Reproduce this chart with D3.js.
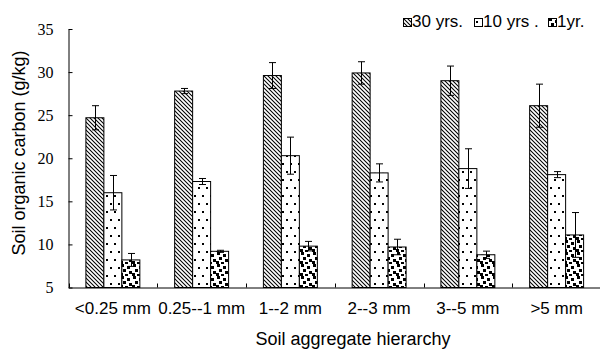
<!DOCTYPE html>
<html>
<head>
<meta charset="utf-8">
<script src="https://cdn.jsdelivr.net/npm/d3@7"></script>
<style>
  html, body { margin: 0; padding: 0; background: #fff; }
  svg { display: block; }
</style>
</head>
<body>
<svg id="chart" width="600" height="351"></svg>
<script>
// Soil organic carbon by aggregate size class, for three reclamation ages
const categories = ["<0.25 mm", "0.25--1 mm", "1--2 mm", "2--3 mm", "3--5 mm", ">5 mm"];
const seriesNames = ["30 yrs.", "10 yrs .", "1yr."];
const values30 = [24.7, 27.8, 29.6, 29.9, 29.0, 26.1];
const errors30 = [1.4, 0.3, 1.5, 1.3, 1.7, 2.5];
const values10 = [16.0, 17.3, 20.3, 18.3, 18.8, 18.1];
const errors10 = [2.0, 0.35, 2.15, 1.05, 2.3, 0.35];
const values1 = [8.2, 9.2, 9.8, 9.7, 8.8, 11.1];
const errors1 = [0.75, 0.12, 0.55, 0.9, 0.42, 2.6];
const yTicks = [5, 10, 15, 20, 25, 30, 35];

const series = [
  { name: seriesNames[0], values: values30, errors: errors30, fill: "url(#hatch)" },
  { name: seriesNames[1], values: values10, errors: errors10, fill: "url(#dots)" },
  { name: seriesNames[2], values: values1, errors: errors1, fill: "url(#confetti)" }
];

const svg = d3.select("#chart");
const plotLeft = 68.5, plotRight = 601, plotTop = 29, plotBottom = 287.5;

// Fill patterns for the three series
const defs = svg.append("defs");
const hatch = defs.append("pattern").attr("id", "hatch")
  .attr("patternUnits", "userSpaceOnUse").attr("width", 4).attr("height", 4);
hatch.append("rect").attr("width", 4).attr("height", 4).attr("fill", "#fff");
hatch.append("path").attr("d", "M-1,-1 L5,5 M-1,3 L1,5 M3,-1 L5,1")
  .attr("stroke", "#000").attr("stroke-width", 1.05);

const dots = defs.append("pattern").attr("id", "dots")
  .attr("patternUnits", "userSpaceOnUse").attr("width", 8).attr("height", 16);
dots.append("rect").attr("width", 8).attr("height", 16).attr("fill", "#fff");
dots.append("rect").attr("x", 2).attr("y", 3).attr("width", 2).attr("height", 2).attr("fill", "#000");
dots.append("rect").attr("x", 6).attr("y", 11).attr("width", 2).attr("height", 2).attr("fill", "#000");

const conf = defs.append("pattern").attr("id", "confetti")
  .attr("patternUnits", "userSpaceOnUse").attr("width", 12).attr("height", 12);
conf.append("rect").attr("width", 12).attr("height", 12).attr("fill", "#fff");
[[1, 0], [7, 2], [3, 5], [9, 7], [0, 9], [5, 10]].forEach(([px, py]) => {
  conf.append("rect").attr("x", px).attr("y", py).attr("width", 3).attr("height", 3).attr("fill", "#000");
});

// Scales
const x0 = d3.scaleBand().domain(categories).range([plotLeft, plotRight])
  .paddingInner(0.392).paddingOuter(0.196);
const x1 = d3.scaleBand().domain(seriesNames).range([0, x0.bandwidth()]);
const y = d3.scaleLinear().domain([5, 35]).range([plotBottom, plotTop]);

// Bars
const groups = svg.append("g").selectAll("g")
  .data(series).join("g");
groups.selectAll("rect")
  .data(s => s.values.map((v, i) => ({ s, v, e: s.errors[i], c: categories[i] })))
  .join("rect")
  .attr("x", d => x0(d.c) + x1(d.s.name))
  .attr("y", d => y(d.v))
  .attr("width", x1.bandwidth())
  .attr("height", d => y(5) - y(d.v))
  .attr("fill", d => d.s.fill)
  .attr("stroke", "#000")
  .attr("stroke-width", 1);

// Error bars
const errs = svg.append("g").attr("stroke", "#000").attr("stroke-width", 1);
series.forEach(s => {
  s.values.forEach((v, i) => {
    const cx = Math.round(x0(categories[i]) + x1(s.name) + x1.bandwidth() / 2) + 0.5;
    const y1 = y(v + s.errors[i]), y2 = y(v - s.errors[i]);
    errs.append("line").attr("x1", cx).attr("x2", cx).attr("y1", y1).attr("y2", y2);
    errs.append("line").attr("x1", cx - 3.5).attr("x2", cx + 3.5).attr("y1", y1).attr("y2", y1);
    errs.append("line").attr("x1", cx - 3.5).attr("x2", cx + 3.5).attr("y1", y2).attr("y2", y2);
  });
});

// Y axis
const yAxis = svg.append("g").attr("transform", `translate(${plotLeft},0)`)
  .call(d3.axisLeft(y).tickValues(yTicks).tickSizeInner(-4).tickSizeOuter(0).tickPadding(15));
yAxis.select(".domain").attr("stroke", "#000");
yAxis.selectAll(".tick line").attr("stroke", "#000");
yAxis.selectAll("text").attr("font-family", "'Liberation Serif', 'Times New Roman', serif")
  .attr("font-size", 16).attr("fill", "#000");

// X axis with labels under each group and small ticks between groups
const xAxis = svg.append("g").attr("transform", `translate(0,${plotBottom})`)
  .call(d3.axisBottom(x0).tickSize(0).tickPadding(14));
xAxis.select(".domain").attr("stroke", "#000");
xAxis.selectAll("text").attr("font-family", "'Liberation Sans', Arial, sans-serif")
  .attr("font-size", 17).attr("fill", "#000");
const half = x0.step() * x0.paddingInner() / 2;
const bounds = categories.map(c => x0(c) - half).concat([x0(categories[categories.length - 1]) + x0.bandwidth() + half]);
svg.append("g").selectAll("line").data(bounds).join("line")
  .attr("x1", d => Math.round(d) + 0.5).attr("x2", d => Math.round(d) + 0.5)
  .attr("y1", plotBottom).attr("y2", plotBottom - 4)
  .attr("stroke", "#000");

// Axis titles
svg.append("text")
  .attr("x", 353).attr("y", 345)
  .attr("text-anchor", "middle")
  .attr("font-family", "'Liberation Sans', Arial, sans-serif")
  .attr("font-size", 18)
  .text("Soil aggregate hierarchy");
svg.append("text")
  .attr("transform", "translate(25,153) rotate(-90)")
  .attr("text-anchor", "middle")
  .attr("font-family", "'Liberation Sans', Arial, sans-serif")
  .attr("font-size", 18)
  .text("Soil organic carbon (g/kg)");

// Legend
const legendX = [403, 474, 548];
const legend = svg.append("g").selectAll("g").data(series).join("g")
  .attr("transform", (d, i) => `translate(${legendX[i]},18)`);
legend.append("rect").attr("x", 0.5).attr("y", 0.5).attr("width", 8).attr("height", 8)
  .attr("fill", d => d.fill).attr("stroke", "#000");
legend.append("text").attr("x", 9).attr("y", 9)
  .attr("font-family", "'Liberation Sans', Arial, sans-serif")
  .attr("font-size", 17)
  .text(d => d.name);
</script>
</body>
</html>
